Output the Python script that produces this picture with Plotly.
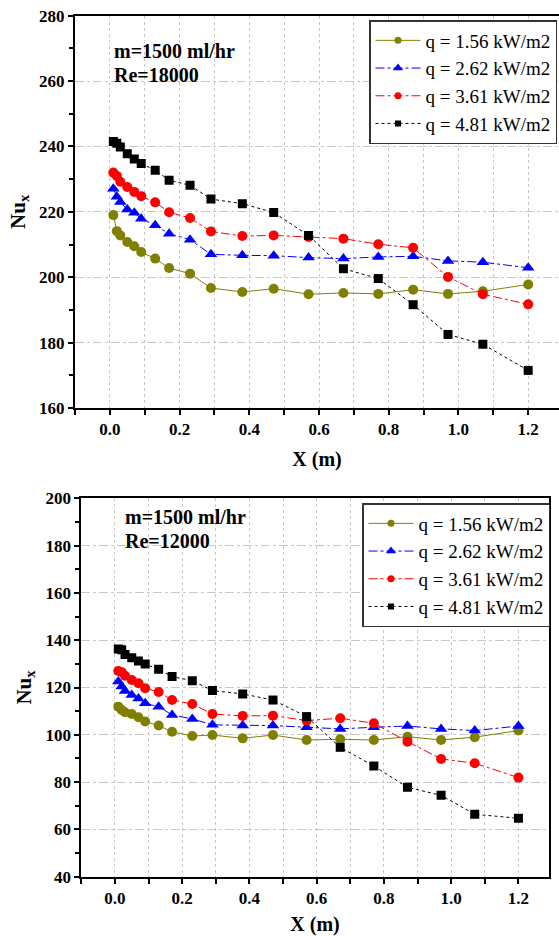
import plotly.graph_objects as go

# ---------------- data ----------------
x_pos = [0.01, 0.02, 0.03, 0.05, 0.07, 0.09, 0.13, 0.17, 0.23, 0.29, 0.38,
         0.47, 0.57, 0.67, 0.77, 0.87, 0.97, 1.07, 1.2]

series_names = ["q = 1.56 kW/m2", "q = 2.62 kW/m2", "q = 3.61 kW/m2", "q = 4.81 kW/m2"]

# Re = 18000
re18_q156 = [219.0, 214.1, 212.8, 210.8, 209.5, 207.7, 205.7, 202.8, 201.1, 196.7, 195.5,
             196.5, 194.8, 195.2, 194.9, 196.2, 194.9, 195.7, 197.8]
re18_q262 = [227.1, 224.6, 223.0, 220.7, 219.7, 217.9, 215.9, 213.3, 211.5, 207.0, 206.7,
             206.6, 206.0, 205.7, 206.2, 206.4, 205.0, 204.6, 202.9]
re18_q361 = [232.0, 231.0, 229.2, 227.6, 226.1, 224.8, 222.9, 219.9, 218.1, 214.0, 212.6,
             212.8, 212.3, 211.8, 210.1, 209.0, 200.1, 194.8, 191.7]
re18_q481 = [241.5, 241.0, 239.8, 237.8, 236.2, 234.8, 232.7, 229.7, 228.1, 223.9, 222.5,
             219.8, 212.8, 202.6, 199.6, 191.6, 182.5, 179.5, 171.5]

# Re = 12000
re12_q156 = [111.9, 110.5, 109.5, 108.8, 107.4, 105.6, 103.9, 101.3, 99.5, 99.9, 98.5,
             99.9, 97.8, 98.1, 97.8, 99.2, 97.8, 99.0, 101.8]
re12_q262 = [122.5, 120.4, 118.5, 116.8, 115.4, 113.3, 111.9, 108.4, 106.7, 104.2, 103.9,
             103.9, 103.2, 102.5, 103.2, 103.7, 102.5, 101.8, 103.7]
re12_q361 = [127.0, 126.5, 125.0, 123.2, 121.8, 119.7, 118.1, 114.7, 113.0, 108.8, 108.0,
             108.1, 106.0, 107.0, 104.9, 97.1, 89.8, 88.0, 81.9]
re12_q481 = [136.3, 136.0, 134.0, 132.6, 131.2, 129.9, 127.7, 124.6, 122.9, 118.7, 117.3,
             114.7, 107.7, 94.7, 86.8, 77.8, 74.4, 66.4, 64.7]

x_tick_vals = [0.0, 0.2, 0.4, 0.6, 0.8, 1.0, 1.2]
x_tick_text = ["0.0", "0.2", "0.4", "0.6", "0.8", "1.0", "1.2"]
y_top_ticks = [160, 180, 200, 220, 240, 260, 280]
y_bot_ticks = [40, 60, 80, 100, 120, 140, 160, 180, 200]

# ---------------- styles ----------------
colors = ["#808000", "#0000FF", "#FF0000", "#000000"]
dashes = ["solid", "dashdot", "dashdot", "dot"]
symbols = ["circle", "triangle-up", "circle", "square"]
msizes = [10, 11, 10, 9]
leg_msizes = [7, 9, 7, 6]

W, H = 559, 936
SERIF = "Liberation Serif"

fig = go.Figure()

panels = [
    ("x", "y", "legend", [re18_q156, re18_q262, re18_q361, re18_q481]),
    ("x2", "y2", "legend2", [re12_q156, re12_q262, re12_q361, re12_q481]),
]
for xa, ya, lg, data in panels:
    for i, vals in enumerate(data):
        fig.add_trace(go.Scatter(
            x=x_pos, y=vals, mode="lines+markers", name=series_names[i],
            xaxis=xa, yaxis=ya, showlegend=False,
            line=dict(color=colors[i], width=1, dash=dashes[i]),
            marker=dict(color=colors[i], symbol=symbols[i], size=msizes[i]),
        ))
    # legend entries (smaller markers, as in the reference legend)
    for i in range(4):
        fig.add_trace(go.Scatter(
            x=[None], y=[None], mode="lines+markers", name=series_names[i],
            xaxis=xa, yaxis=ya, legend=lg, showlegend=True,
            line=dict(color=colors[i], width=1, dash=dashes[i]),
            marker=dict(color=colors[i], symbol=symbols[i], size=leg_msizes[i]),
        ))

tickfont = dict(family=SERIF, size=17, color="black", weight="bold")
grid_col = "#C8C8C8"


def xaxis_cfg(domain, rng, anchor):
    return dict(
        domain=domain, range=rng, anchor=anchor,
        tickvals=x_tick_vals, ticktext=["<b>%s</b>" % t for t in x_tick_text],
        tickfont=tickfont,
        ticks="outside", ticklen=5, tickwidth=2, tickcolor="black",
        showgrid=False, zeroline=False,
        showline=True, linecolor="black", linewidth=2, mirror=True,
        minor=dict(dtick=0.1, tick0=0, ticks="outside", ticklen=5, tickwidth=2,
                   tickcolor="black", showgrid=True, gridcolor=grid_col,
                   griddash="dot", gridwidth=1),
        title=dict(text="<b>X (m)</b>", font=dict(family=SERIF, size=20, color="black", weight="bold"),
                   standoff=14),
        automargin=False,
    )


def yaxis_cfg(domain, rng, anchor, mirror, ticks):
    return dict(
        domain=domain, range=rng, anchor=anchor,
        tickvals=ticks, ticktext=["<b>%d</b>" % t for t in ticks],
        tickfont=tickfont,
        ticks="outside", ticklen=5, tickwidth=2, tickcolor="black",
        showgrid=True, gridcolor=grid_col, griddash="dashdot", gridwidth=1,
        zeroline=False,
        showline=True, linecolor="black", linewidth=2, mirror=mirror,
        minor=dict(dtick=10, ticks="outside", ticklen=4, tickwidth=2,
                   tickcolor="black", showgrid=False),
        title=dict(text="<b>Nu<sub>x</sub></b>", font=dict(family=SERIF, size=21, color="black", weight="bold"),
                   standoff=8),
        automargin=False,
    )


top_y = [1 - 408 / H, 1 - 15.7 / H]
bot_y = [1 - 876.7 / H, 1 - 498.3 / H]

leg_common = dict(xanchor="left", yanchor="top",
                  bgcolor="white", bordercolor="#333333", borderwidth=1.5,
                  font=dict(family=SERIF, size=19, color="black"),
                  tracegroupgap=0, itemwidth=45)

fig.update_layout(
    width=W, height=H,
    margin=dict(l=0, r=0, t=0, b=0),
    paper_bgcolor="white", plot_bgcolor="white",
    xaxis=xaxis_cfg([75 / W, 1.0], [-0.1, 1.2884], "y"),
    yaxis=yaxis_cfg(top_y, [160, 280], "x", False, y_top_ticks),
    xaxis2=xaxis_cfg([81.3 / W, 548.7 / W], [-0.1, 1.29], "y2"),
    yaxis2=yaxis_cfg(bot_y, [40, 200], "x2", True, y_bot_ticks),
    legend=dict(x=369 / W, y=1 - 20 / H, **leg_common),
    legend2=dict(x=362 / W, y=1 - 503 / H, **leg_common),
    showlegend=True,
)

ann_font = dict(family=SERIF, size=20, color="black", weight="bold")
for txt, px, py in [("m=1500 ml/hr", 112, 51), ("Re=18000", 112, 75),
                    ("m=1500 ml/hr", 123, 517), ("Re=12000", 123, 541)]:
    fig.add_annotation(text="<b>%s</b>" % txt, x=px / W, y=1 - py / H, xref="paper", yref="paper",
                       xanchor="left", yanchor="middle", showarrow=False, font=ann_font)

fig.write_html("out.html")
